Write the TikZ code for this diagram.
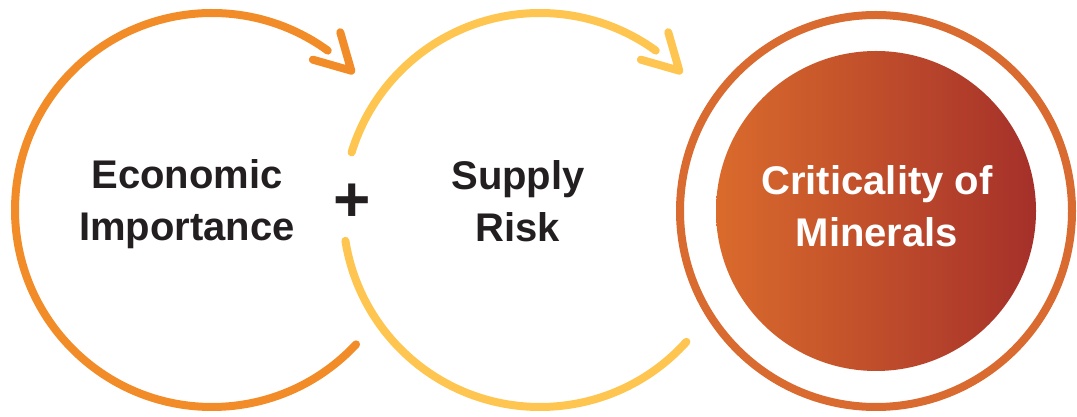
\documentclass[tikz,border=0pt]{standalone}
\usepackage{fontspec}
\setmainfont{Liberation Sans}
\usetikzlibrary{calc}

\definecolor{econorange}{HTML}{F28C28}
\definecolor{supplyyellow}{HTML}{FEC650}
\definecolor{critring}{HTML}{D96A30}
\definecolor{critleft}{HTML}{DA6B2C}
\definecolor{critright}{HTML}{A5302A}
\definecolor{labelink}{HTML}{231F20}

\tikzset{chevron/.pic={\draw (106:40) -- (0,0) -- (164:40);}}

\begin{document}
\begin{tikzpicture}[x=1pt, y=1pt, line cap=round, line join=round,
  loop/.style={line width=8pt},
  label/.style={font=\fontsize{40}{52}\selectfont\bfseries, text=labelink, align=center, inner sep=0pt},
  disk/.style={circle, minimum size=320pt, inner sep=0pt, left color=critleft, right color=critright}]
\useasboundingbox (0,0) rectangle (1077,417);

\coordinate (econ c) at (212,207);
\coordinate (supply c) at (540,207);
\coordinate (crit c) at (876,206);

% Economic Importance
\draw[loop, econorange] (econ c) ++(-43:197) arc[start angle=-43, end angle=-306, radius=197];
\pic[loop, econorange] at ($(econ c)+(45:197)$) {chevron};
\node[label] (econ) at (187,213) {Economic\\Importance};

\node[label, font=\fontsize{64}{64}\selectfont\bfseries] (plus) at (352,214) {+};

% Supply Risk
\draw[loop, supplyyellow] (supply c) ++(163:197) arc[start angle=163, end angle=54, radius=197];
\draw[loop, supplyyellow] (supply c) ++(-42:197) arc[start angle=-42, end angle=-171, radius=197];
\pic[loop, supplyyellow] at ($(supply c)+(45:197)$) {chevron};
\node[label] (supply) at (518,215.5) {Supply\\Risk};

% Criticality of Minerals
\node[disk] (crit) at (crit c) {};
\draw[loop, critring] (crit.center) circle (196);
\node[label, text=white] (crit text) at (877,210.5) {Criticality of\\Minerals};

\end{tikzpicture}
\end{document}
